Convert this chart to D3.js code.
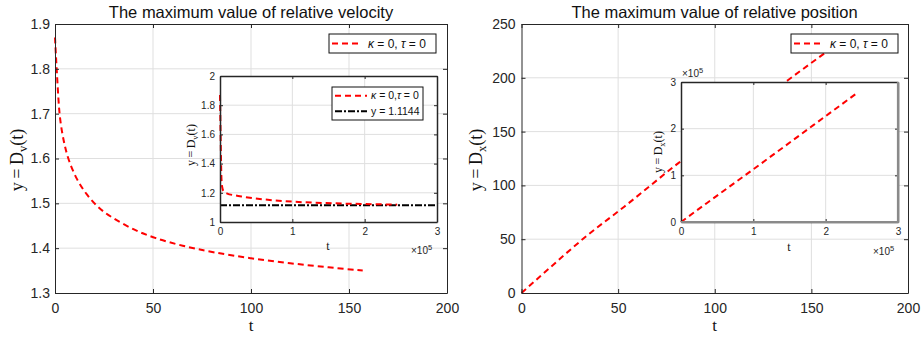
<!DOCTYPE html>
<html>
<head>
<meta charset="utf-8">
<script src="https://cdn.jsdelivr.net/npm/d3@7"></script>
<style>
  body { margin: 0; background: #fff; }
  svg { display: block; }
</style>
</head>
<body>
<div id="vis"></div>
<script>
const FRAME_WIDTH = 922;
const FRAME_HEIGHT = 337;

// main velocity curve (left panel)
const velT   = [0, 0.4, 0.85, 1.5, 2.2, 3.5, 5, 7, 11, 16, 22, 29, 40, 51, 65, 80, 100, 120, 140, 157];
const velMax = [1.87, 1.835, 1.80, 1.75, 1.70, 1.66, 1.627, 1.595, 1.553, 1.52, 1.49, 1.468, 1.441, 1.422, 1.405, 1.391, 1.377, 1.366, 1.357, 1.350];

// long run velocity (left inset)
const velLongT   = [0, 1000, 2000, 3000, 5000, 10000, 20000, 32000, 60000, 101000, 157000, 200000, 245000];
const velLongMax = [1.87, 1.55, 1.30, 1.24, 1.21, 1.195, 1.183, 1.173, 1.155, 1.139, 1.128, 1.123, 1.119];
const velLimit = 1.1144;

// main position curve (right panel)
const posT   = [0, 10, 33, 53, 81, 110, 138, 157];
const posMax = [0, 16, 52, 80, 120.5, 160, 198, 223];

// long run position (right inset)
const posLongT   = [0, 35500, 100000, 183000, 244000];
const posLongMax = [0, 40300, 113000, 207500, 277000];

const mainXTicks = [0, 50, 100, 150, 200];
const velYTicks = [1.3, 1.4, 1.5, 1.6, 1.7, 1.8, 1.9];
const posYTicks = [0, 50, 100, 150, 200, 250];
const insetXTicks = [0, 1e5, 2e5, 3e5];
const velInsetYTicks = [1, 1.2, 1.4, 1.6, 1.8, 2];
const posInsetYTicks = [0, 1e5, 2e5, 3e5];

const titles = ["The maximum value of relative velocity", "The maximum value of relative position"];

const SANS = "'Liberation Sans', Arial, sans-serif";
const SERIF = "'Liberation Serif', 'Times New Roman', serif";
const AX = "#262626";

const svg = d3.select("#vis").append("svg")
    .attr("width", FRAME_WIDTH)
    .attr("height", FRAME_HEIGHT);

// builds one MATLAB-like axes; returns scales + data layer
function makeAxes(box, o) {
  const g = svg.append("g");
  const x = d3.scaleLinear().domain(o.xDomain).range([box.x0, box.x1]);
  const y = d3.scaleLinear().domain(o.yDomain).range([box.y1, box.y0]);

  g.append("rect")
    .attr("x", box.x0).attr("y", box.y0)
    .attr("width", box.x1 - box.x0).attr("height", box.y1 - box.y0)
    .attr("fill", "#fff");

  const grid = g.append("g").attr("stroke", "#dfdfdf").attr("stroke-width", 1);
  grid.selectAll(".gx").data(o.xTicks.slice(1, -1)).enter().append("line")
    .attr("x1", d => x(d)).attr("x2", d => x(d))
    .attr("y1", box.y0).attr("y2", box.y1);
  grid.selectAll(".gy").data(o.yTicks.slice(1, -1)).enter().append("line")
    .attr("y1", d => y(d)).attr("y2", d => y(d))
    .attr("x1", box.x0).attr("x2", box.x1);

  const data = g.append("g");
  const axes = g.append("g");

  const styleAxis = (sel) => {
    sel.selectAll("path, line").attr("stroke", AX);
    sel.selectAll("text").attr("fill", AX).style("font-family", SANS).style("font-size", o.fontSize + "px");
  };

  axes.append("g").attr("transform", "translate(0," + box.y1 + ")")
    .call(d3.axisBottom(x).tickValues(o.xTicks).tickSize(-o.tick).tickSizeOuter(0)
      .tickPadding(o.xPad).tickFormat(o.xFmt))
    .call(styleAxis);
  axes.append("g").attr("transform", "translate(" + box.x0 + ",0)")
    .call(d3.axisLeft(y).tickValues(o.yTicks).tickSize(-o.tick).tickSizeOuter(0)
      .tickPadding(o.yPad).tickFormat(o.yFmt))
    .call(styleAxis);
  axes.append("g").attr("transform", "translate(0," + box.y0 + ")")
    .call(d3.axisTop(x).tickValues(o.xTicks).tickSize(-o.tick).tickSizeOuter(0).tickFormat(""))
    .call(styleAxis);
  axes.append("g").attr("transform", "translate(" + box.x1 + ",0)")
    .call(d3.axisRight(y).tickValues(o.yTicks).tickSize(-o.tick).tickSizeOuter(0).tickFormat(""))
    .call(styleAxis);
  axes.selectAll(".domain").attr("stroke-width", o.boxWidth);

  return {x, y, data, g, box};
}

function drawLine(ax, xs, ys, color, dash, curve) {
  const pts = xs.map((d, i) => [d, ys[i]]);
  ax.data.append("path")
    .datum(pts)
    .attr("fill", "none")
    .attr("stroke", color)
    .attr("stroke-width", 2)
    .attr("stroke-dasharray", dash)
    .attr("d", d3.line().x(d => ax.x(d[0])).y(d => ax.y(d[1])).curve(curve || d3.curveMonotoneX));
}

// y = D_sub(t) label in serif
function yLabel(cx, cy, sub, size) {
  const t = svg.append("text")
    .attr("transform", "translate(" + cx + "," + cy + ") rotate(-90)")
    .attr("text-anchor", "middle")
    .attr("dy", "0.35em")
    .attr("fill", "#111")
    .style("font-family", SERIF)
    .style("font-size", size + "px");
  t.append("tspan").text("y\u2009=\u2009D");
  t.append("tspan").attr("dy", size * 0.2).style("font-size", (size * 0.7) + "px").text(sub);
  t.append("tspan").attr("dy", -size * 0.2).text("(t)");
}

function xLabel(cx, yBase, size) {
  svg.append("text").attr("x", cx).attr("y", yBase)
    .attr("text-anchor", "middle").attr("fill", "#111")
    .style("font-family", SERIF).style("font-size", size + "px")
    .text("t");
}

function expLabel(x0, yBase) {
  const t = svg.append("text").attr("x", x0).attr("y", yBase).attr("fill", AX)
    .style("font-family", SANS).style("font-size", "10px");
  t.append("tspan").text("×10");
  t.append("tspan").attr("dy", -4).style("font-size", "7.5px").text("5");
}

function greekText(sel, parts) {
  parts.forEach(p => {
    const ts = sel.append("tspan").text(p[0]);
    if (p[1]) ts.style("font-style", "italic");
  });
}

function legend(box, rows, size) {
  const g = svg.append("g");
  g.append("rect").attr("x", box.x).attr("y", box.y).attr("width", box.w).attr("height", box.h)
    .attr("fill", "#fff").attr("stroke", "#111").attr("stroke-width", 1);
  rows.forEach((r, i) => {
    const cy = box.y + box.rowH * (i + 0.5) + (box.pad || 0);
    g.append("line").attr("x1", box.x + box.l0).attr("x2", box.x + box.l1)
      .attr("y1", cy).attr("y2", cy)
      .attr("stroke", r.color).attr("stroke-width", 2).attr("stroke-dasharray", r.dash);
    const t = g.append("text").attr("x", box.x + box.tx).attr("y", cy).attr("dy", "0.35em")
      .attr("fill", "#111").style("font-family", SANS).style("font-size", size + "px");
    greekText(t, r.parts);
  });
}

const fmtDec = d3.format(".1f");
const fmtInt = d => String(d);
const fmtE5 = d => String(d / 1e5);
const fmtInsetV = d => (Number.isInteger(d) ? String(d) : fmtDec(d));

// ---------- left panel ----------
const leftMain = makeAxes({x0: 55, x1: 447, y0: 24, y1: 293}, {
  xDomain: [0, 200], yDomain: [1.3, 1.9], xTicks: mainXTicks, yTicks: velYTicks,
  tick: 4, xPad: 10, yPad: 5, fontSize: 14, xFmt: fmtInt, yFmt: fmtDec, boxWidth: 1
});
drawLine(leftMain, velT, velMax, "#ff0000", "6,4", d3.curveBasis);

const leftInset = makeAxes({x0: 220, x1: 437, y0: 76, y1: 222}, {
  xDomain: [0, 3e5], yDomain: [1, 2], xTicks: insetXTicks, yTicks: velInsetYTicks,
  tick: 3, xPad: 6, yPad: 5, fontSize: 10, xFmt: fmtE5, yFmt: fmtInsetV, boxWidth: 1.5
});
drawLine(leftInset, [0, 3e5], [velLimit, velLimit], "#000", "7,2,2,2", d3.curveLinear);
drawLine(leftInset, velLongT, velLongMax, "#ff0000", "6,4");

// ---------- right panel ----------
const rightMain = makeAxes({x0: 521.5, x1: 908, y0: 24, y1: 293}, {
  xDomain: [0, 200], yDomain: [0, 250], xTicks: mainXTicks, yTicks: posYTicks,
  tick: 4, xPad: 10, yPad: 6, fontSize: 14, xFmt: fmtInt, yFmt: fmtInt, boxWidth: 1
});
drawLine(rightMain, posT, posMax, "#ff0000", "6,4");

const rightInset = makeAxes({x0: 681, x1: 898, y0: 82, y1: 222}, {
  xDomain: [0, 3e5], yDomain: [0, 3e5], xTicks: insetXTicks, yTicks: posInsetYTicks,
  tick: 3, xPad: 6, yPad: 5, fontSize: 10, xFmt: fmtE5, yFmt: fmtE5, boxWidth: 1.5
});
drawLine(rightInset, posLongT, posLongMax, "#ff0000", "6,4");
// gray bottom/right edge of the inset
rightInset.g.append("path")
  .attr("d", "M681,222H898V82")
  .attr("fill", "none").attr("stroke", "#8a8a8a").attr("stroke-width", 2.2);

// ---------- titles, labels ----------
svg.selectAll(".title").data(titles).enter().append("text")
  .attr("x", (d, i) => i === 0 ? 251 : 714.5)
  .attr("y", 18)
  .attr("text-anchor", "middle")
  .attr("fill", "#111")
  .style("font-family", SANS).style("font-size", "16.5px")
  .text(d => d);

yLabel(17, 160, "v", 18);
yLabel(476, 160, "x", 18);
xLabel(251, 331, 17);
xLabel(714.5, 331, 17);

yLabel(191, 145, "v", 12);
yLabel(658, 152, "x", 12);
xLabel(328, 250, 12);
xLabel(789, 251, 12);

expLabel(411, 254);
expLabel(873, 255);
expLabel(682, 77);

// ---------- legends ----------
const kt = [["κ", true], [" = 0, "], ["τ", true], [" = 0"]];
legend({x: 329, y: 34, w: 107, h: 19, rowH: 19, l0: 3, l1: 33, tx: 39}, [
  {color: "#ff0000", dash: "6,4", parts: kt}
], 12);
legend({x: 791, y: 34, w: 107, h: 19, rowH: 19, l0: 3, l1: 30, tx: 39}, [
  {color: "#ff0000", dash: "6,4", parts: kt}
], 12);
legend({x: 332, y: 87, w: 91, h: 33, rowH: 15.5, pad: 1, l0: 3, l1: 35, tx: 39}, [
  {color: "#ff0000", dash: "6,4", parts: [["κ", true], [" = 0,"], ["τ", true], [" = 0"]]},
  {color: "#000", dash: "7,2,2,2", parts: [["y = 1.1144"]]}
], 10.5);
</script>
</body>
</html>
